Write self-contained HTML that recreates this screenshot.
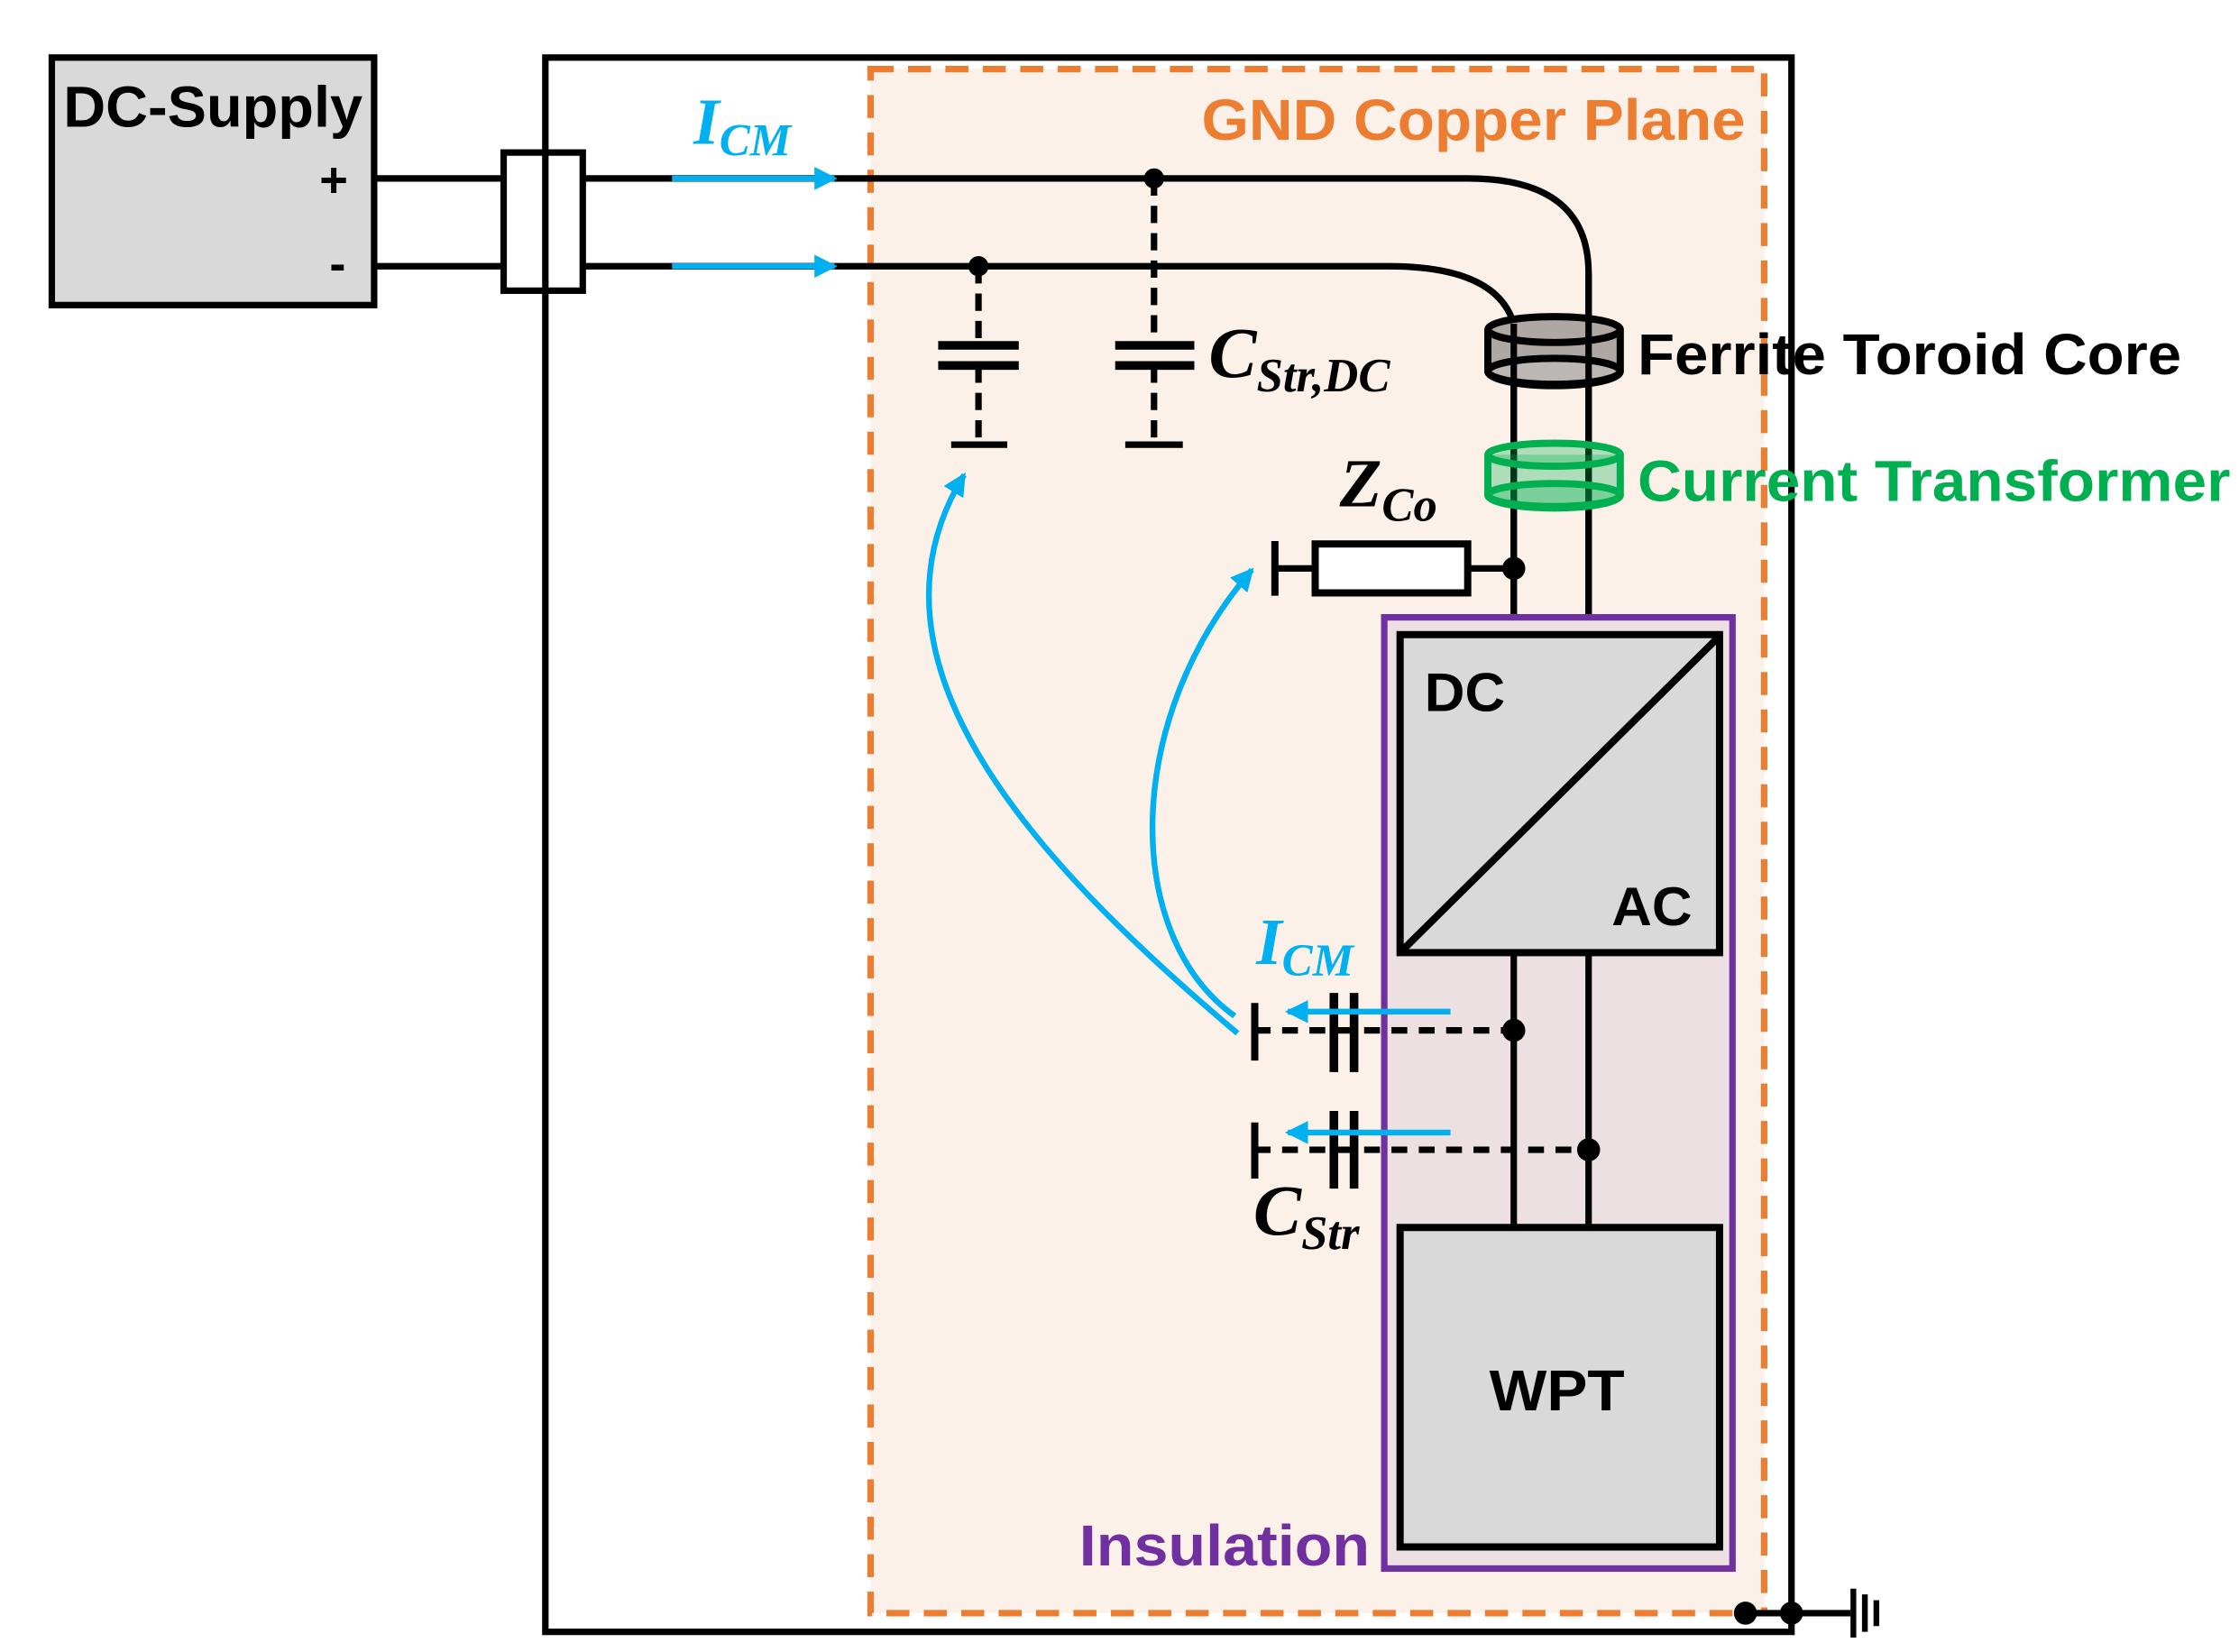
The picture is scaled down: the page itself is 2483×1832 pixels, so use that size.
<!DOCTYPE html>
<html><head><meta charset="utf-8"><style>html,body{margin:0;padding:0;background:#fff}svg{display:block}</style></head>
<body>
<svg width="2483" height="1832" viewBox="0 0 1556 1148" preserveAspectRatio="none" xmlns="http://www.w3.org/2000/svg">
<defs>
<marker id="ah" markerWidth="4" markerHeight="4" refX="3.5" refY="2" orient="auto" markerUnits="strokeWidth"><path d="M0,0 L4,2 L0,4 z" fill="#00b0f0"/></marker>
</defs>
<rect width="1556" height="1148" fill="#fff"/>
<rect x="379" y="40" width="866" height="1094" fill="none" stroke="#000" stroke-width="4.5"/>
<rect x="605" y="48" width="621" height="1073" fill="#fbf1e9" stroke="#ed7d31" stroke-width="4.5" stroke-dasharray="16,10"/>
<text x="1213" y="97" text-anchor="end" font-family="Liberation Sans, sans-serif" font-weight="bold" font-size="40" fill="#ed7d31" textLength="378" lengthAdjust="spacingAndGlyphs">GND Copper Plane</text>
<rect x="36" y="40" width="224" height="172" fill="#d9d9d9" stroke="#000" stroke-width="4.5"/>
<text x="44" y="88" font-family="Liberation Sans, sans-serif" font-weight="bold" font-size="40" textLength="208" lengthAdjust="spacingAndGlyphs">DC-Supply</text>
<text x="222" y="137" font-family="Liberation Sans, sans-serif" font-weight="bold" font-size="34">+</text>
<text x="229" y="195" font-family="Liberation Sans, sans-serif" font-weight="bold" font-size="34">-</text>
<path d="M260,124 H1020 Q1104,124 1104,190 V440" fill="none" stroke="#000" stroke-width="4.5"/>
<path d="M260,185 H965 Q1040,185 1052,225 V440" fill="none" stroke="#000" stroke-width="4.5"/>
<rect x="350" y="106" width="55" height="96" fill="#fff" stroke="#000" stroke-width="4.5"/>
<line x1="379" y1="106" x2="379" y2="202" stroke="#000" stroke-width="4.5"/>
<line x1="467" y1="124" x2="580" y2="124" stroke="#00b0f0" stroke-width="4" marker-end="url(#ah)"/>
<line x1="467" y1="185" x2="580" y2="185" stroke="#00b0f0" stroke-width="4" marker-end="url(#ah)"/>
<text x="482" y="100" font-family="Liberation Serif, serif" font-style="italic" font-weight="bold" font-size="46" fill="#00b0f0">I<tspan font-size="32" dy="8">CM</tspan></text>
<g stroke="#000" stroke-width="4.5">
<line x1="680" y1="185" x2="680" y2="240" stroke-dasharray="12,7"/>
<line x1="680" y1="254" x2="680" y2="308" stroke-dasharray="12,7"/>
<line x1="652" y1="240" x2="708" y2="240" stroke-width="6"/>
<line x1="652" y1="254" x2="708" y2="254" stroke-width="6"/>
<line x1="661" y1="309" x2="700" y2="309"/>
<line x1="802" y1="124" x2="802" y2="240" stroke-dasharray="12,7"/>
<line x1="802" y1="254" x2="802" y2="308" stroke-dasharray="12,7"/>
<line x1="775" y1="240" x2="830" y2="240" stroke-width="6"/>
<line x1="775" y1="254" x2="830" y2="254" stroke-width="6"/>
<line x1="782" y1="309" x2="822" y2="309"/>
</g>
<circle cx="680" cy="185" r="7"/><circle cx="802" cy="124" r="7"/>
<text x="840" y="262" font-family="Liberation Serif, serif" font-style="italic" font-weight="bold" font-size="50">C<tspan font-size="33" dy="10">Str,DC</tspan></text>
<g stroke="#000" stroke-width="5">
<path d="M1034,229 V258 A46,10 0 0 0 1126,258 V229" fill="#aea7a3"/>
<ellipse cx="1080" cy="229" rx="46" ry="9" fill="#aea7a3"/>
<ellipse cx="1080" cy="258" rx="46" ry="9" fill="#bdb7b3"/>
</g>
<line x1="1052" y1="225" x2="1052" y2="440" stroke="#000" stroke-width="4.5"/>
<line x1="1104" y1="190" x2="1104" y2="440" stroke="#000" stroke-width="4.5"/>
<text x="1138" y="260" font-family="Liberation Sans, sans-serif" font-weight="bold" font-size="40" textLength="378" lengthAdjust="spacingAndGlyphs">Ferrite Toroid Core</text>
<g stroke="#00b050" stroke-width="5" fill="rgba(0,176,80,0.3)">
<path d="M1034,316 V344 A46,9 0 0 0 1126,344 V316"/>
<ellipse cx="1080" cy="316" rx="46" ry="8"/>
<ellipse cx="1080" cy="344" rx="46" ry="8"/>
</g>
<text x="1138" y="348" font-family="Liberation Sans, sans-serif" font-weight="bold" font-size="40" fill="#00b050" textLength="412" lengthAdjust="spacingAndGlyphs">Current Transformer</text>
<text x="931" y="352" font-family="Liberation Serif, serif" font-style="italic" font-weight="bold" font-size="48">Z<tspan font-size="33" dy="10">Co</tspan></text>
<rect x="914" y="378" width="106" height="34" fill="#fff" stroke="#000" stroke-width="5"/>
<line x1="1020" y1="395" x2="1052" y2="395" stroke="#000" stroke-width="4.5"/>
<line x1="886" y1="395" x2="914" y2="395" stroke="#000" stroke-width="4.5"/>
<line x1="886" y1="376" x2="886" y2="414" stroke="#000" stroke-width="5"/>
<circle cx="1052" cy="395" r="8"/>
<rect x="962" y="429" width="242" height="661" fill="#ede0e2" stroke="#7030a0" stroke-width="4.5"/>
<text x="750" y="1088" font-family="Liberation Sans, sans-serif" font-weight="bold" font-size="40" fill="#7030a0" textLength="202" lengthAdjust="spacingAndGlyphs">Insulation</text>
<rect x="973" y="441" width="222" height="221" fill="#d9d9d9" stroke="#000" stroke-width="5"/>
<line x1="975" y1="660" x2="1194" y2="443" stroke="#000" stroke-width="5"/>
<text x="990" y="494" font-family="Liberation Sans, sans-serif" font-weight="bold" font-size="38" textLength="56" lengthAdjust="spacingAndGlyphs">DC</text>
<text x="1120" y="643" font-family="Liberation Sans, sans-serif" font-weight="bold" font-size="38" textLength="56" lengthAdjust="spacingAndGlyphs">AC</text>
<line x1="1052" y1="662" x2="1052" y2="852" stroke="#000" stroke-width="4.5"/>
<line x1="1104" y1="662" x2="1104" y2="852" stroke="#000" stroke-width="4.5"/>
<rect x="973" y="853" width="222" height="222" fill="#d9d9d9" stroke="#000" stroke-width="5"/>
<text x="1082" y="980" text-anchor="middle" font-family="Liberation Sans, sans-serif" font-weight="bold" font-size="40" textLength="94" lengthAdjust="spacingAndGlyphs">WPT</text>
<g stroke="#000" stroke-width="4.5">
<line x1="872" y1="716" x2="1052" y2="716" stroke-dasharray="11,8"/>
<line x1="872" y1="697" x2="872" y2="737" stroke-width="5"/>
<line x1="927" y1="690" x2="927" y2="745" stroke-width="6"/>
<line x1="941" y1="690" x2="941" y2="745" stroke-width="6"/>
<line x1="872" y1="799" x2="1104" y2="799" stroke-dasharray="11,8"/>
<line x1="872" y1="780" x2="872" y2="819" stroke-width="5"/>
<line x1="927" y1="772" x2="927" y2="826" stroke-width="6"/>
<line x1="941" y1="772" x2="941" y2="826" stroke-width="6"/>
</g>
<circle cx="1052" cy="716" r="8"/><circle cx="1104" cy="799" r="8"/>
<line x1="1008" y1="703" x2="895" y2="703" stroke="#00b0f0" stroke-width="4" marker-end="url(#ah)"/>
<line x1="1008" y1="787" x2="895" y2="787" stroke="#00b0f0" stroke-width="4" marker-end="url(#ah)"/>
<text x="873" y="670" font-family="Liberation Serif, serif" font-style="italic" font-weight="bold" font-size="46" fill="#00b0f0">I<tspan font-size="32" dy="8">CM</tspan></text>
<text x="871" y="858" font-family="Liberation Serif, serif" font-style="italic" font-weight="bold" font-size="50">C<tspan font-size="33" dy="10">Str</tspan></text>
<path d="M860,718 C720,600 590,460 670,330" fill="none" stroke="#00b0f0" stroke-width="4" marker-end="url(#ah)"/>
<path d="M858,706 C780,650 780,500 870,396" fill="none" stroke="#00b0f0" stroke-width="4" marker-end="url(#ah)"/>
<line x1="1213" y1="1121" x2="1286" y2="1121" stroke="#000" stroke-width="4.5"/>
<circle cx="1213" cy="1121" r="8"/><circle cx="1245" cy="1121" r="8"/>
<line x1="1288" y1="1104" x2="1288" y2="1138" stroke="#000" stroke-width="4"/>
<line x1="1296" y1="1108" x2="1296" y2="1134" stroke="#000" stroke-width="4"/>
<line x1="1304" y1="1112" x2="1304" y2="1130" stroke="#000" stroke-width="4"/>
</svg>
</body></html>
